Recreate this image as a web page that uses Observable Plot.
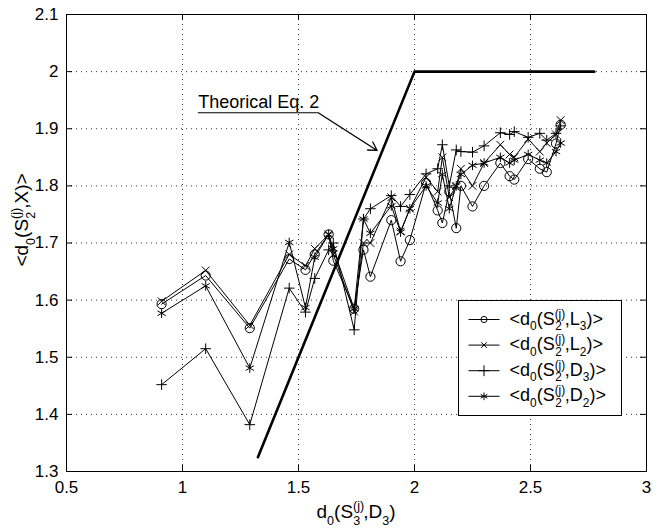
<!DOCTYPE html>
<html><head><meta charset="utf-8">
<script src="https://cdn.jsdelivr.net/npm/d3@7"></script>
<script src="https://cdn.jsdelivr.net/npm/@observablehq/plot@0.6"></script>
<style>
body{margin:0;background:#fff}
svg{font-family:"Liberation Sans",Arial,Helvetica,sans-serif}
</style>
</head><body><div id="chart"></div>
<script>
// ---- data ----
const xVals = [0.91, 1.10, 1.29, 1.46, 1.53, 1.57, 1.63, 1.65, 1.74, 1.78, 1.81, 1.90, 1.94, 1.98, 2.05, 2.10, 2.12, 2.15, 2.18, 2.20, 2.25, 2.30, 2.37, 2.41, 2.43, 2.49, 2.54, 2.57, 2.61, 2.63];
const yL3 = [1.593, 1.643, 1.551, 1.672, 1.653, 1.680, 1.715, 1.669, 1.585, 1.688, 1.641, 1.740, 1.668, 1.705, 1.805, 1.757, 1.735, 1.790, 1.726, 1.800, 1.764, 1.800, 1.840, 1.817, 1.811, 1.847, 1.830, 1.824, 1.874, 1.907];
const yL2 = [1.598, 1.652, 1.556, 1.680, 1.660, 1.690, 1.715, 1.680, 1.580, 1.700, 1.700, 1.780, 1.720, 1.760, 1.815, 1.790, 1.850, 1.780, 1.800, 1.830, 1.800, 1.840, 1.872, 1.855, 1.850, 1.882, 1.860, 1.875, 1.890, 1.915];
const yD3 = [1.452, 1.515, 1.382, 1.621, 1.579, 1.638, 1.688, 1.700, 1.548, 1.742, 1.760, 1.783, 1.764, 1.785, 1.821, 1.830, 1.872, 1.800, 1.863, 1.860, 1.859, 1.870, 1.893, 1.890, 1.895, 1.885, 1.892, 1.880, 1.892, 1.905];
const yD2 = [1.577, 1.625, 1.481, 1.701, 1.587, 1.675, 1.715, 1.690, 1.585, 1.742, 1.717, 1.765, 1.719, 1.760, 1.800, 1.770, 1.820, 1.760, 1.800, 1.820, 1.836, 1.840, 1.850, 1.840, 1.845, 1.855, 1.845, 1.840, 1.860, 1.875];
const theoX = [1.325, 2.0, 2.775];
const theoY = [1.325, 2.0, 2.0];
const xTicks = [0.5, 1, 1.5, 2, 2.5, 3];
const yTicks = [1.3, 1.4, 1.5, 1.6, 1.7, 1.8, 1.9, 2.0, 2.1];
const annotLabel = "Theorical Eq. 2";
const annotTextPos = {x: 1.068, y: 1.946};
const annotUnder = {x1: 1.068, x2: 1.585, y: 1.928};
const annotArrowEnd = {x: 1.839, y: 1.862};
const legendSub = ["L", "L", "D", "D"];
const legendIdx = ["3", "2", "3", "2"];

// ---- build ----
const series = [
  {key: "L3", values: yL3, symbol: "circle", r: 4.6, d3sym: d3.symbolCircle, lsize: 30},
  {key: "L2", values: yL2, symbol: "times", r: 3.6, d3sym: d3.symbolTimes, lsize: 22},
  {key: "D3", values: yD3, symbol: "plus", r: 3.5, d3sym: d3.symbolPlus, lsize: 40},
  {key: "D2", values: yD2, symbol: "asterisk", r: 4.5, d3sym: d3.symbolAsterisk, lsize: 40}
];
const rows = series.flatMap(s => xVals.map((x, i) => ({x, y: s.values[i], key: s.key})));
const theo = theoX.map((x, i) => ({x, y: theoY[i]}));

const W = 665, H = 531, mL = 66, mR = 19, mT = 14, mB = 60;
const pw = W - mL - mR, ph = H - mT - mB;
const grid = {stroke: "#000", strokeOpacity: 0.8, strokeDasharray: "1,4", strokeWidth: 1};
const fmt = d => String(Math.round(d * 10) / 10);

const plot = Plot.plot({
  width: W, height: H,
  marginLeft: mL, marginRight: mR, marginTop: mT, marginBottom: mB,
  style: {fontFamily: "'Liberation Sans', Arial, sans-serif", background: "#fff", color: "#000"},
  x: {domain: [0.5, 3]},
  y: {domain: [1.3, 2.1]},
  marks: [
    Plot.gridX(xTicks, grid),
    Plot.gridY(yTicks, grid),
    Plot.ruleX(xTicks, {stroke: "#000", insetTop: ph - 6}),
    Plot.ruleX(xTicks, {stroke: "#000", insetBottom: ph - 6}),
    Plot.ruleY(yTicks, {stroke: "#000", insetRight: pw - 6}),
    Plot.ruleY(yTicks, {stroke: "#000", insetLeft: pw - 6}),
    Plot.frame({stroke: "#000", strokeWidth: 1}),
    Plot.axisX(xTicks, {tickSize: 0, tickPadding: 9, fontSize: 17, label: null, tickFormat: fmt}),
    Plot.axisY(yTicks, {tickSize: 0, tickPadding: 8, fontSize: 17, label: null, tickFormat: fmt}),
    Plot.line(theo, {x: "x", y: "y", stroke: "#000", strokeWidth: 2.6}),
    Plot.line(rows, {x: "x", y: "y", z: "key", stroke: "#000", strokeWidth: 1}),
    ...series.map(s => Plot.dot(rows.filter(d => d.key === s.key), {x: "x", y: "y", symbol: s.symbol, r: s.r, stroke: "#000", fill: "none", strokeWidth: 1})),
    Plot.text([annotTextPos], {x: "x", y: "y", text: () => annotLabel, textAnchor: "start", fontSize: 18, fill: "#000"}),
    Plot.ruleY([annotUnder], {x1: "x1", x2: "x2", y: "y", stroke: "#000", strokeWidth: 1.2}),
    Plot.arrow([{x1: annotUnder.x2, y1: annotUnder.y, x2: annotArrowEnd.x, y2: annotArrowEnd.y}], {x1: "x1", y1: "y1", x2: "x2", y2: "y2", stroke: "#000", strokeWidth: 1.3, headLength: 11, bend: 0})
  ]
});
document.getElementById("chart").appendChild(plot);

// ---- rich text helper ----
function rich(parent, x, y, parts, size, anchor, transform, subK = 0.36, supK = 0.44) {
  const t = parent.append("text").attr("x", x).attr("y", y).attr("font-size", size)
    .attr("fill", "#000").attr("text-anchor", anchor || "start");
  if (transform) t.attr("transform", transform);
  let cur = 0;
  for (const p of parts) {
    const off = p.s === "sub" ? size * subK : p.s === "sup" ? -size * supK : 0;
    const ts = t.append("tspan").text(p.t).attr("dy", off - cur);
    if (p.s) ts.attr("font-size", size * 0.66);
    if (p.dx) ts.attr("dx", p.dx);
    cur = off;
  }
  return t;
}
const svg = d3.select(plot);
// x label
rich(svg, mL + pw / 2, 518, [
  {t: "d"}, {t: "0", s: "sub"}, {t: "(S"}, {t: "(j)", s: "sup"}, {t: "3", s: "sub", dx: -11}, {t: ",D", dx: 3}, {t: "3", s: "sub"}, {t: ")"}
], 19, "middle");
// y label
rich(svg, 0, 0, [
  {t: "<d"}, {t: "0", s: "sub"}, {t: "(S"}, {t: "(j)", s: "sup"}, {t: "2", s: "sub", dx: -11}, {t: ",X)>", dx: 3}
], 19, "middle", "translate(28,220) rotate(-90)");

// legend
const lg = svg.append("g");
const lx = 458.5, ly = 300.5, lw = 163, lh = 115;
lg.append("rect").attr("x", lx).attr("y", ly).attr("width", lw).attr("height", lh)
  .attr("fill", "#fff").attr("stroke", "#000");
series.forEach((s, i) => {
  const cy = ly + 19 + i * 25.6;
  lg.append("line").attr("x1", lx + 10).attr("x2", lx + 41).attr("y1", cy).attr("y2", cy).attr("stroke", "#000");
  lg.append("path").attr("d", d3.symbol(s.d3sym, s.lsize)()).attr("transform", `translate(${lx + 25.5},${cy})`)
    .attr("fill", "none").attr("stroke", "#000");
  rich(lg, lx + 51, cy + 5, [
    {t: "<d"}, {t: "0", s: "sub"}, {t: "(S"}, {t: "(j)", s: "sup"}, {t: "2", s: "sub", dx: -10}, {t: "," + legendSub[i], dx: 3}, {t: legendIdx[i], s: "sub"}, {t: ")>"}
  ], 18, "start", null, 0.3, 0.38);
});
</script></body></html>
